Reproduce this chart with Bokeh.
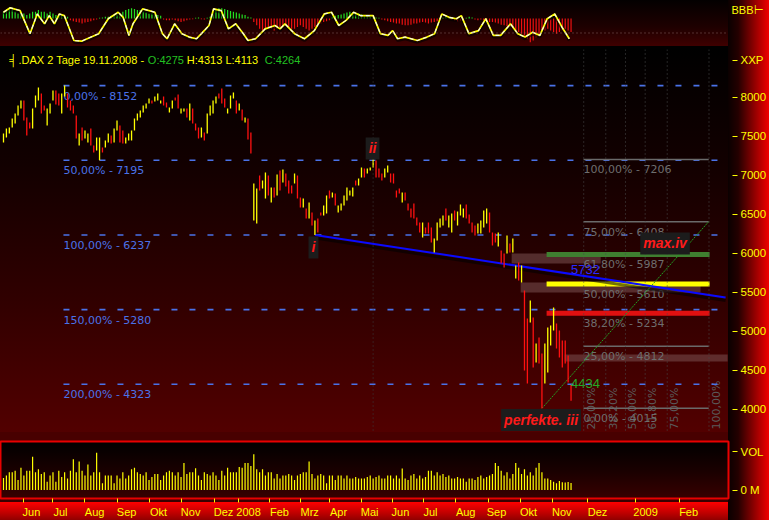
import math
from bokeh.plotting import figure
from bokeh.layouts import column
from bokeh.models import Range1d, FixedTicker, Label, Span, ColumnDataSource
from bokeh.core.properties import value
from bokeh.embed import file_html
from bokeh.resources import INLINE

# ---------------- data ----------------
instrument = ".DAX"
period = "2 Tage"
last_date = "19.11.2008"
last_open = 4275
last_close = 4264

highs = [7538, 7603, 7615, 7731, 7795, 7897, 7962, 7962, 7744, 7680,
         7859, 8026, 8128, 8051, 7897, 7859, 7923, 8090, 8090, 8051,
         8051, 8152, 8051, 7962, 7897, 7769, 7538, 7615, 7577, 7538,
         7603, 7385, 7487, 7487, 7359, 7449, 7538, 7513, 7603, 7705,
         7641, 7577, 7487, 7538, 7577, 7731, 7795, 7833, 7897, 7923,
         7987, 7962, 8013, 8051, 7962, 8013, 7936, 7872, 7962, 8000,
         8038, 7859, 7859, 7859, 7923, 7859, 7667, 7615, 7615, 7551,
         7795, 7897, 7962, 8013, 8051, 8115, 7987, 7859, 8026, 8064,
         7962, 7923, 7846, 7744, 7731, 7551, 6897, 6833, 7000, 6936,
         7038, 7000, 6846, 6846, 7013, 7064, 7077, 7026, 6936, 6872,
         7026, 7000, 6718, 6705, 6577, 6654, 6526, 6423, 6449, 6526,
         6615, 6744, 6808, 6782, 6769, 6615, 6641, 6744, 6846, 6808,
         6846, 6936, 6962, 7103, 7090, 7090, 7103, 7206, 7192, 7090,
         7026, 7090, 7128, 7026, 7026, 6808, 6833, 6782, 6782, 6641,
         6577, 6641, 6462, 6398, 6398, 6333, 6398, 6333, 6192, 6398,
         6449, 6487, 6577, 6487, 6513, 6551, 6538, 6628, 6577, 6628,
         6500, 6398, 6359, 6385, 6423, 6551, 6577, 6526, 6269, 6256,
         6269, 6038, 6000, 6231, 6128, 6192, 5846, 5885, 5846, 5526,
         5167, 5397, 5179, 4846, 4923, 4718, 4846, 5051, 5077, 5308,
         5103, 5013, 4885, 4885, 4692, 4313]

lows = [7423, 7487, 7538, 7615, 7667, 7769, 7859, 7705, 7513, 7603,
        7603, 7872, 7962, 7795, 7833, 7641, 7795, 7962, 7910, 7897,
        7795, 8013, 7872, 7833, 7795, 7474, 7385, 7449, 7474, 7423,
        7385, 7295, 7321, 7195, 7295, 7359, 7423, 7410, 7423, 7577,
        7423, 7410, 7410, 7449, 7449, 7577, 7705, 7744, 7808, 7859,
        7923, 7923, 7949, 7962, 7923, 7897, 7872, 7808, 7859, 7962,
        7859, 7795, 7821, 7744, 7705, 7667, 7577, 7474, 7487, 7449,
        7538, 7769, 7795, 7923, 7987, 7923, 7872, 7795, 7859, 7987,
        7795, 7833, 7705, 7680, 7462, 7282, 6423, 6385, 6808, 6833,
        6705, 6744, 6654, 6718, 6744, 6808, 6910, 6859, 6769, 6769,
        6897, 6705, 6590, 6590, 6449, 6449, 6359, 6237, 6269, 6487,
        6487, 6513, 6705, 6718, 6615, 6526, 6551, 6615, 6680, 6744,
        6731, 6872, 6872, 6974, 6974, 7026, 7064, 7103, 6974, 6974,
        6936, 6974, 7038, 6910, 6897, 6718, 6769, 6654, 6680, 6551,
        6462, 6449, 6359, 6269, 6205, 6256, 6256, 6141, 6013, 6167,
        6333, 6359, 6423, 6333, 6269, 6423, 6359, 6487, 6462, 6449,
        6385, 6269, 6231, 6256, 6256, 6333, 6385, 6269, 6103, 6141,
        6090, 5872, 5821, 6000, 6013, 6013, 5679, 5654, 5628, 4500,
        4333, 5115, 4538, 4603, 4590, 4015, 4333, 4474, 4821, 5013,
        4782, 4667, 4538, 4590, 4346, 4113]

bar_dir = ("YYYYYYYRRR" "YYYRRYYYRR" "YYRRRRYRYY" "RRYYRYYRYY" "RRYYYYYYYY"
           "YRYYYRRYYR" "RYYRYRRRYR" "YYYYRRRYYY" "RYRYRRYYRY" "YRYRYRYRRR"
           "YRRYRYRYRR" "YYRYRYYYYY" "YRYYRYYYRR" "RYYRRRRYRR" "RRRRYRRRYY"
           "YYRYYRYYYR" "RRRYYYYRRR" "YRRYRYYRYR" "RYRYRRYYYY" "RRRRRR")

volume = [39, 47, 57, 57, 62, 32, 72, 47, 62, 62,
          107, 57, 67, 52, 57, 27, 47, 57, 27, 62,
          42, 57, 37, 62, 99, 57, 92, 62, 47, 82,
          47, 57, 120, 57, 22, 47, 47, 47, 22, 47,
          37, 57, 37, 47, 67, 72, 57, 52, 47, 57,
          32, 42, 52, 52, 32, 47, 57, 62, 57, 47,
          57, 42, 87, 52, 57, 57, 70, 47, 32, 57,
          52, 47, 57, 47, 32, 62, 47, 72, 57, 57,
          57, 74, 72, 87, 87, 77, 115, 67, 57, 67,
          47, 57, 57, 37, 52, 37, 47, 47, 52, 47,
          32, 47, 52, 57, 57, 92, 52, 37, 47, 52,
          47, 22, 47, 47, 32, 47, 47, 37, 47, 37,
          37, 42, 37, 37, 37, 42, 47, 37, 42, 47,
          37, 37, 47, 47, 37, 47, 37, 69, 37, 32,
          47, 52, 37, 47, 37, 42, 62, 62, 47, 57,
          47, 52, 42, 47, 37, 37, 42, 37, 37, 27,
          37, 37, 32, 42, 47, 37, 42, 47, 52, 87,
          77, 62, 47, 57, 37, 52, 87, 72, 52, 67,
          47, 57, 47, 72, 87, 57, 37, 37, 32, 27,
          22, 29, 25, 24, 26, 23]

osc_hist = [20, 25, 30, 25, 20, 15, 20, 15,
            10, 15, 20, 20, 25, 20, 20, 15, 20, 15, 10, 10, 8, 5, 5,
            -5, -8, -10, -12, -15, -12, -10, -8, -5, -3, 2, 3, 5, 5, 8,
            10, 12, 15, 20, 25, 28, 30, 28, 25, 25, 20, 18, 15, 15, 12, 10, 8,
            -3, -5, -5, -3, -5, -8, -10, -8, -5, -3, -2, 2, 3, -2, -3, 2, 5,
            15, 25, 30, 30, 28, 25, 22, 20, 18, 15, 12, 10, 5, 3,
            -10, -20, -30, -35, -30, -25, -30, -35, -30, -25, -20, -20, -25, -30,
            -30, -25, -20, -25, -30, -35, -30, -25, -20, -15, -10, -8, -5,
            5, 8, 10, 12, 15, 18, 20, 18, 15, 15, 12, 10, 8, 5, 5, 3, 2,
            -3, -5, -8, -10, -12, -15, -15, -18, -20, -20, -18, -15, -15, -12,
            -10, -12, -15, -12, -10, -8, -5,
            3, 5, 3, -3, -5, -8, -5, -3, 2, 5, 3, -3, -5, -3, -5, -8, -10,
            -10, -12, -15, -18, -20, -22, -25, -30, -35, -40, -45, -50, -60, -70,
            -65, -55, -45, -40, -35, -30, -35, -40, -45, -40, -35, -30, -35, -40]
osc_hist_base = 67.6
osc_mid_level = 25

osc_line_idx = [0, 2.3, 5.7, 9.1, 11.6, 14.1, 15.7, 17.5, 19.2, 20.9,
                24.2, 26.8, 32.7, 36.0, 39.4, 41.1, 43.1, 44.5, 47.8, 52.0,
                54.6, 56.2, 58.8, 61.3, 63.8, 66.3, 68.0, 70.6, 72.2, 74.8,
                77.3, 79.8, 82.4, 84.0, 86.6, 89.9, 93.3, 95.0, 96.7, 100.0,
                103.4, 106.8, 110.2, 112.7, 115.2, 117.7, 120.3, 122.8, 127.0, 129.5,
                132.1, 133.7, 135.4, 138.0, 142.2, 145.5, 148.1, 150.6, 153.1, 155.6,
                157.3, 159.9, 163.2, 165.7, 168.3, 170.8, 174.2, 176.7, 179.2, 181.8,
                184.3, 186.8, 189.4, 191.9, 194.4]
osc_line_val = [86, 99, 91, 23, 81, 52, 76, 52, 81, 76,
                3, 1, 23, 67, 86, 71, 18, 52, 96, 86,
                23, 8, 52, 23, 13, 8, 23, 47, 96, 91,
                37, 52, 23, 3, 8, 37, 47, 37, 52, 23,
                8, 32, 81, 86, 47, 62, 86, 76, 76, 23,
                18, 32, 8, 13, 3, 13, 23, 81, 71, 67,
                76, 23, 32, 67, 18, 18, 52, 23, 13, 27,
                18, 67, 81, 42, 8]

month_labels = ["Jun", "Jul", "Aug", "Sep", "Okt", "Nov", "Dez", "2008", "Feb", "Mrz", "Apr",
                "Mai", "Jun", "Jul", "Aug", "Sep", "Okt", "Nov", "Dez", "2009", "Feb"]
month_label_pos = [9.6, 19.6, 31.3, 42.3, 53.3, 64.3, 75.6, 84.2, 94.8, 105.2, 115.1,
                   125.8, 136.4, 146.7, 158.8, 169.4, 180.4, 191.8, 204.1, 220.6, 235.4]
month_tick_pos = [6.9, 17.0, 27.8, 39.2, 50.3, 61.2, 72.5, 80.8, 91.4, 101.9, 112.0,
                  123.0, 133.7, 144.2, 155.3, 166.7, 177.5, 188.7, 200.7, 217.2, 232.3]
price_ticks = [4000, 4500, 5000, 5500, 6000, 6500, 7000, 7500, 8000]
price_axis_name = "XXP"
volume_axis_name = "VOL"
osc_name = "BBB\u22a2"

fib_left_levels = [8152, 7195, 6237, 5280, 4323]
fib_left_names = ["0,00%", "50,00%", "100,00%", "150,00%", "200,00%"]
fib_left_start, fib_left_end = 20.6, 245.4

fib_right_levels = [7206, 6408, 5987, 5610, 5234, 4812, 4015]
fib_right_names = ["100,00%", "75,00%", "61,80%", "50,00%", "38,20%", "25,00%", "0,00%"]
fib_right_start, fib_right_end = 199.3, 242.3
fib_band_levels = [5987, 5610, 5234]
fib_band_start, fib_band_end = 186.6, 242.6

time_fib_start, time_fib_end = 185, 242.4
time_fib_ratios = [0.25, 0.382, 0.5, 0.618, 0.75, 1.0]
time_fib_names = ["25,00%", "38,20%", "50,00%", "61,80%", "75,00%", "100,00%"]

zone_left = [174.6, 177.7, 192.8]
zone_right = [205.2, 239.5, 248.8]
zone_top = [6000, 5628, 4705]
zone_bottom = [5872, 5500, 4615]

trend_x = [107, 248.1]
trend_y = [6237, 5436]
trend_last = 5732
target_x = [185, 242.3]
target_y = [4015, 6408]
target_last = 4434

wave_names = ["i", "ii", "perfekte. iii", "max.iv"]
wave_x = [106.5, 126.8, 184.7, 227.3]
wave_y = [6077, 7346, 3866, 6128]
marker_bar = 127

# ---------------- styling helpers ----------------
W = 769
RB = 41
FONT = "Liberation Sans"
LBL_FONT = "DejaVu Sans"
YEL = "#ffff00"
RIGHT_STRIP = ("linear-gradient(to right, #0a0000 0%, #240000 25%, #8a0000 62%, #f00000 100%)"
               " right top / 41px 100% no-repeat")

xr = Range1d(-1.03, 249.1)
N = len(highs)
idx = list(range(N))


def make_fig(h, yr, top, bottom, xloc=None):
    p = figure(width=W, height=h, x_range=xr, y_range=yr, output_backend="svg",
               toolbar_location=None, x_axis_location=xloc, y_axis_location="right",
               min_border_left=0, min_border_right=RB, min_border_top=top,
               min_border_bottom=bottom)
    p.background_fill_alpha = 0
    p.border_fill_alpha = 0
    p.outline_line_color = None
    p.grid.visible = False
    ax = p.yaxis[0]
    ax.axis_line_color = None
    ax.minor_tick_line_color = None
    ax.major_tick_line_color = YEL
    ax.major_tick_in = -4
    ax.major_tick_out = 9
    ax.major_label_standoff = 3
    ax.major_label_text_color = YEL
    ax.major_label_text_font = FONT
    ax.major_label_text_font_size = "11.5px"
    return p


# ---------------- oscillator panel ----------------
osc = make_fig(49, Range1d(-14.7, 117.6), 1, 3)
osc.styles = {"background": RIGHT_STRIP +
              ", linear-gradient(#000000, #000000) left bottom / 100% 3px no-repeat"
              ", linear-gradient(to bottom, #030000 0%, #1e0000 55%, #440000 100%)"}
oax = osc.yaxis[0]
oax.ticker = FixedTicker(ticks=[92])
oax.major_label_overrides = {92: osc_name}
oax.major_tick_line_color = None
oax.major_tick_out = 0
oax.major_tick_in = 0
oax.major_label_standoff = 3
oax.major_label_text_font_size = "11px"

hsrc = ColumnDataSource(dict(
    x=idx, y0=[osc_hist_base] * N,
    y1=[osc_hist_base + v for v in osc_hist],
    c=["#22e022" if v > 0 else "#ee1010" for v in osc_hist]))
osc.segment(x0="x", y0="y0", x1="x", y1="y1", color="c", line_width=1.2, source=hsrc)
osc.add_layout(Span(location=osc_mid_level, dimension="width", line_color="#806060",
                    line_dash="1 3", line_width=1))
osc.line(osc_line_idx, [v - 5 for v in osc_line_val], color="#000000", line_alpha=0.6, line_width=3)
osc.line(osc_line_idx, osc_line_val, color="#ffff00", line_width=1.7)
osc.line(osc_line_idx, osc_line_val, color="#f4f4f4", line_width=1.1, line_dash="4 3")

# ---------------- main price panel ----------------
main = make_fig(383, Range1d(3705, 8615), 0, 0)
main.styles = {"background": RIGHT_STRIP +
               ", linear-gradient(to bottom, #000000 0%, #120000 30%, #300000 65%, #520000 100%)"}
hdr_y = 8474
max_ = main.yaxis[0]
max_.ticker = FixedTicker(ticks=price_ticks + [hdr_y])
max_.major_label_overrides = {hdr_y: price_axis_name}

# time markers
main.add_layout(Span(location=marker_bar, dimension="height", line_color="#3c3c3c",
                     line_dash="1 3", line_width=1))
tf_x = [time_fib_start + r * (time_fib_end - time_fib_start) for r in time_fib_ratios]
for xv in tf_x:
    main.add_layout(Span(location=xv, dimension="height", line_color="#4a4a4a",
                         line_dash="1 3", line_width=1))
main.text(x=tf_x, y=[3705] * len(tf_x), text=time_fib_names, angle=math.pi / 2,
          text_align="left", text_baseline="top", y_offset=-3, x_offset=1,
          text_color="#5a5a5a", text_font=value(LBL_FONT), text_font_size="11px")

# zones
main.quad(left=zone_left, right=zone_right, top=zone_top, bottom=zone_bottom,
          fill_color="#7a5050", fill_alpha=0.55, line_color=None)

# left fib extension
nl = len(fib_left_levels)
main.segment(x0=[fib_left_start] * nl, x1=[fib_left_end] * nl, y0=fib_left_levels,
             y1=fib_left_levels, line_color="#4a72e8", line_width=1.6, line_dash="6 12")
main.text(x=[fib_left_start] * nl, y=fib_left_levels,
          text=[f"{n} - {l}" for n, l in zip(fib_left_names, fib_left_levels)],
          text_baseline="top", y_offset=4, text_color="#4a72e8",
          text_font=value(LBL_FONT), text_font_size="11px")

# right fib retracement
nr = len(fib_right_levels)
main.segment(x0=[fib_right_start] * nr, x1=[fib_right_end] * nr, y0=fib_right_levels,
             y1=fib_right_levels, line_color="#6a6a6a", line_width=1.5)
main.segment(x0=[fib_band_start] * 3, x1=[fib_band_end] * 3, y0=fib_band_levels,
             y1=fib_band_levels, line_color=["#3f7f30", "#ffff00", "#e01010"], line_width=5)
main.text(x=[fib_right_start] * nr, y=fib_right_levels,
          text=[f"{n} - {l}" for n, l in zip(fib_right_names, fib_right_levels)],
          text_baseline="top", y_offset=4, text_color="#6e6e6e",
          text_font=value(LBL_FONT), text_font_size="11px")

# trend lines
main.line(trend_x, [v - 40 for v in trend_y], color="#000000", line_alpha=0.55, line_width=3)
main.line(trend_x, trend_y, color="#0a0aff", line_width=2)
main.line(target_x, target_y, color="#22a022", line_width=1, line_dash="2 1")

# price bars
bsrc = ColumnDataSource(dict(x=idx, h=highs, l=lows,
                             c=[YEL if d == "Y" else "#ff1010" for d in bar_dir]))
main.segment(x0="x", y0="l", x1="x", y1="h", color="c", line_width=1.3, source=bsrc)

# line value labels
main.text(x=[N - 1], y=[trend_last], text=[str(trend_last)], text_baseline="bottom",
          text_color="#2a2aff", text_font=value(FONT), text_font_size="13px")
main.text(x=[N - 1], y=[target_last], text=[str(target_last)], text_baseline="top",
          y_offset=3, text_color="#24a824", text_font=value(FONT), text_font_size="13px")

# wave labels
for name, xv, yv in zip(wave_names, wave_x, wave_y):
    main.add_layout(Label(x=xv, y=yv, text=name, text_align="center", text_baseline="middle",
                          text_color="#ff1a1a", text_font=FONT, text_font_size="14px",
                          text_font_style="bold italic", background_fill_color="#1c1c1c",
                          background_fill_alpha=1.0, padding=3))

# header
hdr_txt = ["\u2561", f"{instrument} {period} {last_date} -", f"O:{last_open}",
           f"H:{highs[-1]} L:{lows[-1]}", f"C:{last_close}"]
hdr_x = [2.06, 5.15, 49.6, 63.0, 89.8]
hdr_c = [YEL, YEL, "#22c022", YEL, "#22c022"]
main.text(x=hdr_x, y=[hdr_y] * 5, text=hdr_txt, text_color=hdr_c, text_baseline="middle",
          text_font=value(FONT), text_font_size="11px")

# ---------------- volume panel ----------------
vol = make_fig(88, Range1d(-27, 156), 9, 18, xloc="below")
vol.styles = {"background": RIGHT_STRIP +
              ", linear-gradient(to bottom, #ff0000 0%, #c00000 60%, #900000 100%) left bottom / 100% 18px no-repeat"
              ", linear-gradient(to bottom, #000000 0%, #1a0000 50%, #3c0000 100%) left 9px / 100% 61px no-repeat"
              ", #480000"}
vol.outline_line_color = "#e80000"
vol.outline_line_width = 2
vax = vol.yaxis[0]
vax.ticker = FixedTicker(ticks=[0, 123])
vax.major_label_overrides = {0: "0 M", 123: volume_axis_name}
vsrc = ColumnDataSource(dict(x=idx, v=volume, z=[0] * N))
vol.segment(x0="x", y0="z", x1="x", y1="v", color=YEL, line_width=1.2, source=vsrc)
xa = vol.xaxis[0]
xa.ticker = FixedTicker(ticks=month_label_pos, minor_ticks=month_tick_pos)
xa.major_label_overrides = {p: l for p, l in zip(month_label_pos, month_labels)}
xa.axis_line_color = None
xa.major_tick_line_color = None
xa.major_tick_in = 0
xa.major_tick_out = 0
xa.minor_tick_line_color = YEL
xa.minor_tick_in = 0
xa.minor_tick_out = 4
xa.major_label_standoff = 3
xa.major_label_text_color = YEL
xa.major_label_text_font = FONT
xa.major_label_text_font_size = "11px"

layout = column(osc, main, vol, spacing=0)
open("out.html", "w").write(file_html(layout, INLINE))
